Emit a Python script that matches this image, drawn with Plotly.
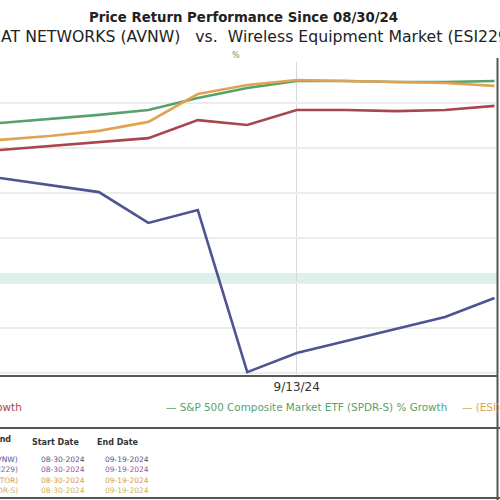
import plotly.graph_objects as go

# ---- data ----
dates = ["9/5/24", "9/6/24", "9/9/24", "9/10/24", "9/11/24", "9/12/24",
         "9/13/24", "9/16/24", "9/17/24", "9/18/24", "9/19/24"]
avnw = [4.67, 4.36, 4.04, 2.67, 3.24, -3.96, -3.11, -2.58, -2.04, -1.51, -0.67]
industry = [5.91, 6.09, 6.27, 6.44, 7.24, 7.02, 7.69, 7.69, 7.64, 7.69, 7.87]
sector = [6.36, 6.53, 6.76, 7.16, 8.40, 8.80, 9.02, 8.98, 8.93, 8.89, 8.76]
sp500 = [7.11, 7.29, 7.47, 7.69, 8.22, 8.67, 8.98, 8.98, 8.93, 8.93, 8.98]
tick_dates = ["9/13/24"]

series_names = ["AVIAT NETWORKS (AVNW) % Growth",
                "Wireless Equipment Market (ESI229) % Growth",
                "(ESI) Computer and Technology Sector % Growth",
                "S&P 500 Composite Market ETF (SPDR-S) % Growth"]
series_colors = ["#4f5391", "#a9464c", "#e0a352", "#58a16a"]

table_header = ["Legend", "Start Date", "End Date"]
table_left = ["(AVNW)", "(ESI229)", "(SECTOR)", "(SPDR-S)"]
table_start = ["08-30-2024", "08-30-2024", "08-30-2024", "08-30-2024"]
table_end = ["09-19-2024", "09-19-2024", "09-19-2024", "09-19-2024"]
table_colors = ["#4f5391", "#8a5a9a", "#d49a4a", "#cdb35a"]

FONT = "DejaVu Sans, Verdana, sans-serif"
W, H = 500, 500
ML, MR, MT, MB = 0, 3, 62, 125
PW, PH = W - ML - MR, H - MT - MB


def px(x):
    return (x - ML) / PW


def py(y):
    return (H - MB - y) / PH


fig = go.Figure()
order = [3, 2, 1, 0]
all_vals = [avnw, industry, sector, sp500]
for i in order:
    fig.add_trace(go.Scatter(x=dates, y=all_vals[i], mode="lines", name=series_names[i],
                             line=dict(color=series_colors[i], width=2.6), showlegend=False))

shapes = []
# teal zero band
shapes.append(dict(type="rect", xref="paper", yref="y", x0=0, x1=1, y0=0, y1=0.44,
                   fillcolor="rgba(208,236,229,0.75)", line=dict(width=0), layer="below"))
# frame lines
shapes.append(dict(type="line", xref="paper", yref="paper", x0=px(0), x1=px(500),
                   y0=py(428), y1=py(428), line=dict(color="#555555", width=2)))
shapes.append(dict(type="line", xref="paper", yref="paper", x0=px(0), x1=px(500),
                   y0=py(498), y1=py(498), line=dict(color="#555555", width=2)))
shapes.append(dict(type="line", xref="paper", yref="paper", x0=px(497.5), x1=px(497.5),
                   y0=py(58), y1=py(500), line=dict(color="#555555", width=2)))

NB = "\u00a0"
ann = []
ann.append(dict(text="<b>Price Return Performance Since 08/30/24</b>", x=px(243), y=py(17),
                xref="paper", yref="paper", showarrow=False, xanchor="center", yanchor="middle",
                font=dict(size=13.3, color="#222222", family=FONT)))
ann.append(dict(text="AVIAT NETWORKS (AVNW)" + NB * 3 + "vs." + NB * 2 + "Wireless Equipment Market (ESI229)",
                x=px(-26), y=py(36), xref="paper", yref="paper", showarrow=False,
                xanchor="left", yanchor="middle",
                font=dict(size=15.7, color="#222222", family=FONT)))
ann.append(dict(text="%", x=px(236), y=py(55), xref="paper", yref="paper", showarrow=False,
                xanchor="center", yanchor="middle",
                font=dict(size=8, color="#58a16a", family=FONT)))

# legend row
LEG = 10.4
ann.append(dict(text=series_names[1], x=px(24), y=py(407), xref="paper", yref="paper",
                showarrow=False, xanchor="right", yanchor="middle",
                font=dict(size=LEG, color=series_colors[1], family=FONT)))
ann.append(dict(text="\u2014 " + series_names[3], x=px(164), y=py(407), xref="paper", yref="paper",
                showarrow=False, xanchor="left", yanchor="middle",
                font=dict(size=LEG, color=series_colors[3], family=FONT)))
ann.append(dict(text="\u2014 " + series_names[2], x=px(460), y=py(407), xref="paper", yref="paper",
                showarrow=False, xanchor="left", yanchor="middle",
                font=dict(size=LEG, color=series_colors[2], family=FONT)))

# table
ann.append(dict(text="<b>" + table_header[0] + "</b>", x=px(13), y=py(439), xref="paper", yref="paper",
                showarrow=False, xanchor="right", yanchor="middle",
                font=dict(size=8, color="#333333", family=FONT)))
ann.append(dict(text="<b>" + table_header[1] + "</b>", x=px(55), y=py(442), xref="paper", yref="paper",
                showarrow=False, xanchor="center", yanchor="middle",
                font=dict(size=8, color="#333333", family=FONT)))
ann.append(dict(text="<b>" + table_header[2] + "</b>", x=px(118), y=py(442), xref="paper", yref="paper",
                showarrow=False, xanchor="center", yanchor="middle",
                font=dict(size=8, color="#333333", family=FONT)))
row_y = [459, 469, 480, 490]
for i in range(4):
    f = dict(size=7.5, color=table_colors[i], family=FONT)
    ann.append(dict(text=table_left[i], x=px(20), y=py(row_y[i]), xref="paper", yref="paper",
                    showarrow=False, xanchor="right", yanchor="middle", font=f))
    ann.append(dict(text=table_start[i], x=px(63), y=py(row_y[i]), xref="paper", yref="paper",
                    showarrow=False, xanchor="center", yanchor="middle", font=f))
    ann.append(dict(text=table_end[i], x=px(127), y=py(row_y[i]), xref="paper", yref="paper",
                    showarrow=False, xanchor="center", yanchor="middle", font=f))

fig.update_layout(
    width=W, height=H,
    margin=dict(l=ML, r=MR, t=MT, b=MB, pad=0),
    paper_bgcolor="white", plot_bgcolor="white",
    showlegend=False,
    shapes=shapes, annotations=ann,
    font=dict(family=FONT, color="#333333"),
    xaxis=dict(type="category", range=[0, 10.05], tickvals=tick_dates, ticktext=tick_dates,
               showgrid=True, gridcolor="#d8d8d8", gridwidth=1, zeroline=False,
               showline=True, linecolor="#555555", linewidth=2, ticks="",
               tickfont=dict(size=12, color="#333333", family=FONT)),
    yaxis=dict(range=[-4.089, 9.822], tick0=0, dtick=2, showgrid=True, gridcolor="#ececec",
               gridwidth=1.5, zeroline=False, showticklabels=False, ticks="", showline=False),
)

fig.write_html("out.html", config={"displayModeBar": False},
               post_script="document.body.style.margin='0';document.body.style.overflow='hidden';")
